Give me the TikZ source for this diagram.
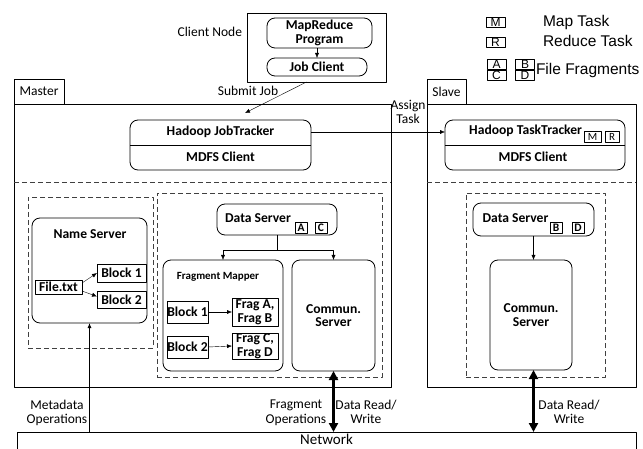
\documentclass[tikz,border=0pt]{standalone}
\usepackage{fontspec}
\setmainfont{Carlito}
\newfontfamily\legendfont{Liberation Sans}
\usetikzlibrary{arrows.meta,positioning}

\begin{document}
\begin{tikzpicture}[x=1bp,y=-1bp,line join=round,>={Latex[length=5bp,width=4bp]},
		every node/.style={inner sep=0pt,outer sep=0pt},
		txt/.style={font=\fontsize{13.5bp}{14.5bp}\selectfont,align=center},
		lbl/.style={font=\bfseries\fontsize{13.6bp}{13.5bp}\selectfont,align=center},
		rbox/.style={draw,line width=0.8bp,rounded corners=8bp},
		sbox/.style={draw,line width=0.9bp,lbl},
		tag/.style={draw,line width=0.6bp,font=\bfseries\fontsize{11.5bp}{11bp}\selectfont,minimum width=12bp,minimum height=11bp},
		ltag/.style={draw,line width=0.6bp,font=\legendfont\fontsize{12bp}{12bp}\selectfont,minimum width=19bp,minimum height=10bp},
		legend/.style={font=\legendfont\fontsize{15.5bp}{16bp}\selectfont,anchor=west},
		frame/.style={draw,line width=0.9bp},
		zone/.style={draw,line width=0.9bp,dashed,dash pattern=on 5bp off 3bp,draw=black!75},
		thickarrow/.style={line width=2.2bp,{Triangle[width=9bp,length=9bp]}-{Triangle[width=9bp,length=9bp]}}]
	\useasboundingbox (0,0) rectangle (643,449);
	% client side
	\node[frame,minimum width=139bp,minimum height=69bp] (client) at (316.5,47.5) {};
	\node[txt,anchor=east] (clientlbl) at (242,32) {Client Node};
	\node[rbox,lbl,minimum width=105bp,minimum height=30bp] (mrp) at (319.5,33) {MapReduce\\Program};
	\node[rbox,lbl,minimum width=100bp,minimum height=18bp] (jc) at (317,67) {Job Client};
	\draw[->] (mrp.south -| jc.north) -- (jc.north);
	% legend
	\node[ltag] (lm) at (495.5,22) {M};
	\node[ltag] (lr) at (495.5,42) {R};
	\node[legend] (lmt) at (543,22) {Map Task};
	\node[legend] (lrt) at (543,41) {Reduce Task};
	\node[ltag] (la) at (496.5,64.5) {A};
	\node[ltag] (lc) at (496.5,75.5) {C};
	\node[ltag] (lb) at (525,64.5) {B};
	\node[ltag] (ld) at (525,75.5) {D};
	\node[legend] (lff) at (536,70) {File Fragments};
	% master
	\node[frame,minimum width=377bp,minimum height=283bp] (master) at (202.5,245.5) {};
	\node[frame,txt,anchor=south west,minimum width=50bp,minimum height=25bp] (mtab) at (master.north west) {Master};
	\draw[zone] (master.west |- 0,182) -- (master.east |- 0,182);
	\node[rbox,minimum width=181bp,minimum height=50bp] (jt) at (220.5,145) {};
	\draw[line width=0.8bp] (jt.west) -- (jt.east);
	\node[lbl] (jtl) at (220.5,132) {Hadoop JobTracker};
	\node[lbl] (jtc) at (220.5,157) {MDFS Client};
	\coordinate (jobin) at (245,113);
	\draw[->] ([xshift=-10bp]client.south) -- (jobin);
	\node[txt] (submit) at (248,91) {Submit Job};
	% name server
	\node[zone,minimum width=125bp,minimum height=151bp] (nszone) at (90.5,272.5) {};
	\node[rbox,minimum width=115bp,minimum height=105bp] (ns) at (89.5,270.5) {};
	\node[lbl] (nsl) at (90,234) {Name Server};
	\node[sbox,minimum width=47bp,minimum height=14bp] (ft) at (58.5,287) {File.txt};
	\node[sbox,minimum width=49bp,minimum height=18bp] (nb1) at (121.5,273) {Block 1};
	\node[sbox,minimum width=49bp,minimum height=17bp] (nb2) at (121.5,299.5) {Block 2};
	\draw[->] ([yshift=4bp]ft.east) -- (nb1.west);
	\draw[->] ([yshift=-4bp]ft.east) -- ([yshift=3bp]nb2.west);
	% data server (master)
	\node[zone,minimum width=225bp,minimum height=184bp] (dszone) at (269.5,285) {};
	\node[rbox,minimum width=120bp,minimum height=31bp] (ds) at (277,219.5) {};
	\node[lbl] (dsl) at (258,218) {Data Server};
	\node[tag] (ta) at (301,228) {A};
	\node[tag] (tc) at (321,228) {C};
	\node[rbox,minimum width=120bp,minimum height=111bp] (fm) at (223,315.5) {};
	\node[lbl,font=\bfseries\fontsize{11bp}{11bp}\selectfont] (fml) at (218,277) {Fragment Mapper};
	\node[rbox,lbl,minimum width=83bp,minimum height=111bp] (mcs) at (333.5,315.5) {Commun.\\Server};
	\draw[->] (ds.south) -- ++(0,15) -| (fm.north);
	\draw[->] (ds.south) -- ++(0,15) -| (mcs.north);
	\node[sbox,minimum width=41bp,minimum height=22bp] (fb1) at (187.5,312) {Block 1};
	\node[sbox,minimum width=46bp,minimum height=28bp] (fab) at (255,312) {Frag A,\\Frag B};
	\node[sbox,minimum width=41bp,minimum height=22bp] (fb2) at (187.5,347) {Block 2};
	\node[sbox,minimum width=46bp,minimum height=26bp] (fcd) at (255,346) {Frag C,\\Frag D};
	\draw[->] (fb1.east) -- (fab.west);
	\draw[->] (fb2.east) -- (fcd.west);
	% slave
	\node[frame,minimum width=209bp,minimum height=283bp] (slave) at (531.5,245.5) {};
	\node[frame,txt,anchor=south west,minimum width=39bp,minimum height=25bp] (stab) at (slave.north west) {Slave};
	\draw[zone] (slave.west |- 0,182) -- (slave.east |- 0,182);
	\node[rbox,minimum width=180bp,minimum height=50bp] (tt) at (535,145) {};
	\draw[line width=0.8bp] (tt.west) -- (tt.east);
	\node[lbl,anchor=east] (ttl) at (582,131) {Hadoop TaskTracker};
	\node[tag,font=\fontsize{11bp}{11bp}\selectfont,minimum width=17bp,minimum height=11bp] (tm) at (592.5,136.5) {M};
	\node[tag,font=\fontsize{11bp}{11bp}\selectfont,minimum width=14bp,minimum height=11bp] (tr) at (612,136.5) {R};
	\node[lbl] (ttc) at (533,157) {MDFS Client};
	\draw[->] ([yshift=13bp]jt.east) -- ([yshift=13bp]tt.west);
	\node[txt] (assign) at (408,112) {Assign\\Task};
	\node[zone,minimum width=139bp,minimum height=184bp] (sdzone) at (535.5,285) {};
	\node[rbox,minimum width=121bp,minimum height=33bp] (sds) at (533.5,219.5) {};
	\node[lbl] (sdsl) at (515.5,218) {Data Server};
	\node[tag] (tb) at (556,228) {B};
	\node[tag] (td) at (578,228) {D};
	\node[rbox,lbl,minimum width=82bp,minimum height=110bp] (scs) at (531,315) {Commun.\\Server};
	\draw[->] (sds.south) -- (sds.south |- scs.north);
	% network
	\node[frame,anchor=north,minimum width=619bp,minimum height=30bp] (net) at (326.5,432) {};
	\node[txt,font=\fontsize{15bp}{15bp}\selectfont,below=2bp of net.north] (netl) {Network};
	\draw[->,line width=0.8bp] (net.north -| ns.south) -- (ns.south);
	\node[txt] (meta) at (57,413) {Metadata\\Operations};
	\draw[thickarrow] (mcs.south) -- (mcs.south |- net.north);
	\node[txt] (fragops) at (296,413) {Fragment\\Operations};
	\node[txt] (mrw) at (366,412) {Data Read/\\Write};
	\draw[thickarrow] (sds.south |- scs.south) -- (sds.south |- net.north);
	\node[txt] (srw) at (569,412) {Data Read/\\Write};
\end{tikzpicture}
\end{document}
